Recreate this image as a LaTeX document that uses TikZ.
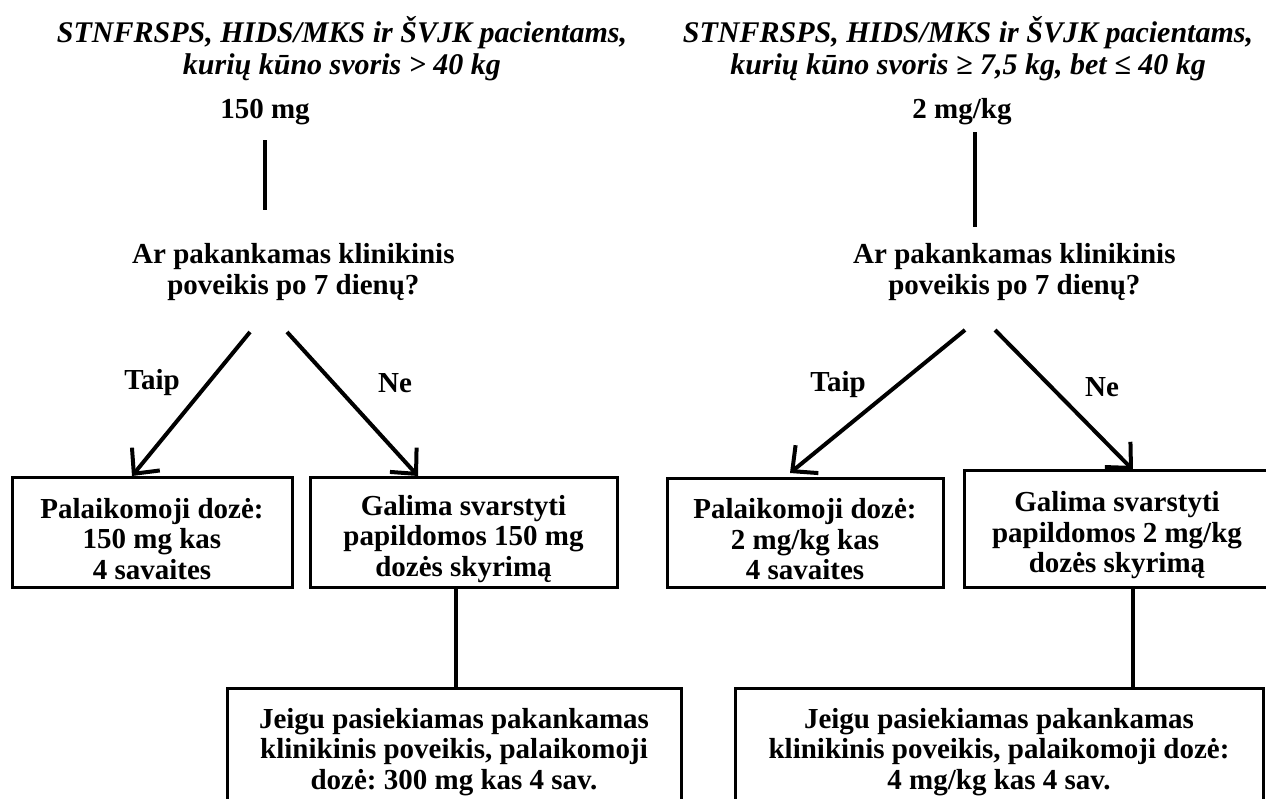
\documentclass[tikz,border=0pt]{standalone}
\usepackage{fontspec}
\setmainfont{Liberation Serif}
\usetikzlibrary{arrows.meta,calc}
\newcommand{\topstrut}{\rule{0pt}{34pt}}
\frenchspacing
\begin{document}
\begin{tikzpicture}[x=1pt,y=-1pt,
  txt/.style={font=\bfseries\fontsize{29}{30.5}\selectfont, align=center, inner sep=0pt},
  ttl/.style={font=\bfseries\itshape\fontsize{30}{32}\selectfont, align=center, inner sep=0pt},
  box/.style={txt, draw, line width=3pt},
  conn/.style={line width=4pt},
  arr/.style={conn, -{Straight Barb[length=19pt,width=36pt,line width=4pt]}}
]
\useasboundingbox (0,0) rectangle (1266,798);
\clip (0,0) rectangle (1266,798);

% ---------- left column ----------
\node[ttl] (tl) at (342,49) {STNFRSPS, HIDS/MKS ir ŠVJK pacientams,\\kurių kūno svoris > 40 kg};
\node[txt] (d1) at (265,112) {150 mg};
\node[txt,anchor=west] (q1) at (132,272) {Ar pakankamas klinikinis\\poveikis po 7 dienų?};
\coordinate (v1a) at (265,140);
\coordinate (v1b) at (265,210);
\draw[conn] (v1a) -- (v1b);

\node[box, minimum width=280pt, minimum height=110pt] (p1) at (152,532) {\topstrut Palaikomoji dozė:\\150 mg kas\\4 savaites};
\node[box, minimum width=307pt, minimum height=110pt] (g1) at (463.5,532) {\topstrut Galima svarstyti\\papildomos 150 mg\\dozės skyrimą};
\node[box, minimum width=454pt, minimum height=128pt] (b1) at (454,752) {Jeigu pasiekiamas pakankamas\\klinikinis poveikis, palaikomoji\\dozė: 300 mg kas 4 sav.};

\coordinate (a1s) at (250,332);
\coordinate (a1e) at (132,476);
\coordinate (a2s) at (287,332);
\coordinate (a2e) at (418,476);
\draw[arr] (a1s) -- (a1e);
\draw[arr] (a2s) -- (a2e);
\node[txt] (y1) at (152,383) {Taip};
\node[txt] (n1) at (395,383) {Ne};

\coordinate (v3) at (456,688);
\draw[conn] (g1.south -| v3) -- (v3);

% ---------- right column ----------
\node[ttl] (tr) at (968,49) {STNFRSPS, HIDS/MKS ir ŠVJK pacientams,\\kurių kūno svoris ≥ 7,5 kg, bet ≤ 40 kg};
\node[txt] (d2) at (962,112) {2 mg/kg};
\node[txt,anchor=west] (q2) at (853,272) {Ar pakankamas klinikinis\\poveikis po 7 dienų?};
\coordinate (v2a) at (975,132);
\coordinate (v2b) at (975,227);
\draw[conn] (v2a) -- (v2b);

\node[box, minimum width=276pt, minimum height=109pt] (p2) at (805,532.5) {\topstrut Palaikomoji dozė:\\2 mg/kg kas\\4 savaites};
\node[box, minimum width=306pt, minimum height=117pt] (g2) at (1117,528.5) {\topstrut Galima svarstyti\\papildomos 2 mg/kg\\dozės skyrimą};
\node[box, minimum width=528pt, minimum height=128pt] (b2) at (999,752) {Jeigu pasiekiamas pakankamas\\klinikinis poveikis, palaikomoji dozė:\\4 mg/kg kas 4 sav.};

\coordinate (a3s) at (965,330);
\coordinate (a3e) at (790,473);
\coordinate (a4s) at (995,330);
\coordinate (a4e) at (1133,470);
\draw[arr] (a3s) -- (a3e);
\draw[arr] (a4s) -- (a4e);
\node[txt] (y2) at (838,385) {Taip};
\node[txt] (n2) at (1102,387) {Ne};

\coordinate (v4) at (1133,688);
\draw[conn] (g2.south -| v4) -- (v4);
\end{tikzpicture}
\end{document}
